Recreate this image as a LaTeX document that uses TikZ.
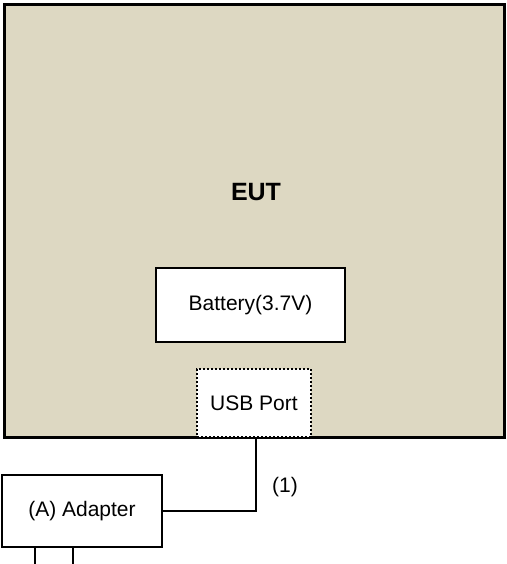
\documentclass[tikz,border=0pt]{standalone}
\usepackage{fontspec}
\setmainfont{Liberation Sans}
\usepackage{tikz}
\usetikzlibrary{positioning, calc}
\definecolor{eutFill}{RGB}{221,216,194}

\tikzset{
  box/.style={draw, line width=2.4pt, fill=white, inner sep=0pt},
  wire/.style={line width=2.4pt},
  txt/.style={font=\fontsize{21}{24}\selectfont}
}

\begin{document}
\begin{tikzpicture}[x=1pt,y=-1pt]
  \useasboundingbox (0,0) rectangle (506,564);

  % EUT enclosure
  \node[box, fill=eutFill, minimum width=500pt, minimum height=433pt] (eut) at (254.5,221) {};
  \node[font=\fontsize{25}{28}\selectfont\bfseries] (eutlabel) at (256,192) {EUT};

  % inner parts
  \node[box, txt, minimum width=189pt, minimum height=74pt] (battery) at (250.5,305) {Battery(3.7V)};
  \node[box, txt, line width=2pt, dash pattern=on 2pt off 2pt, minimum width=114pt, minimum height=68pt] (usb) at (254,403) {USB Port};

  % adapter and cable
  \node[box, txt, minimum width=160pt, minimum height=72pt] (adapter) at (82,511) {(A) Adapter};
  \draw[wire] ($(usb.south)+(2,0)$) |- (adapter.east);
  \node[txt] (cable) at (285,487) {(1)};

  % plug pins
  \coordinate (pinA) at (35,564);
  \coordinate (pinB) at (73,564);
  \draw[wire] (adapter.south -| pinA) -- (pinA);
  \draw[wire] (adapter.south -| pinB) -- (pinB);
\end{tikzpicture}
\end{document}
